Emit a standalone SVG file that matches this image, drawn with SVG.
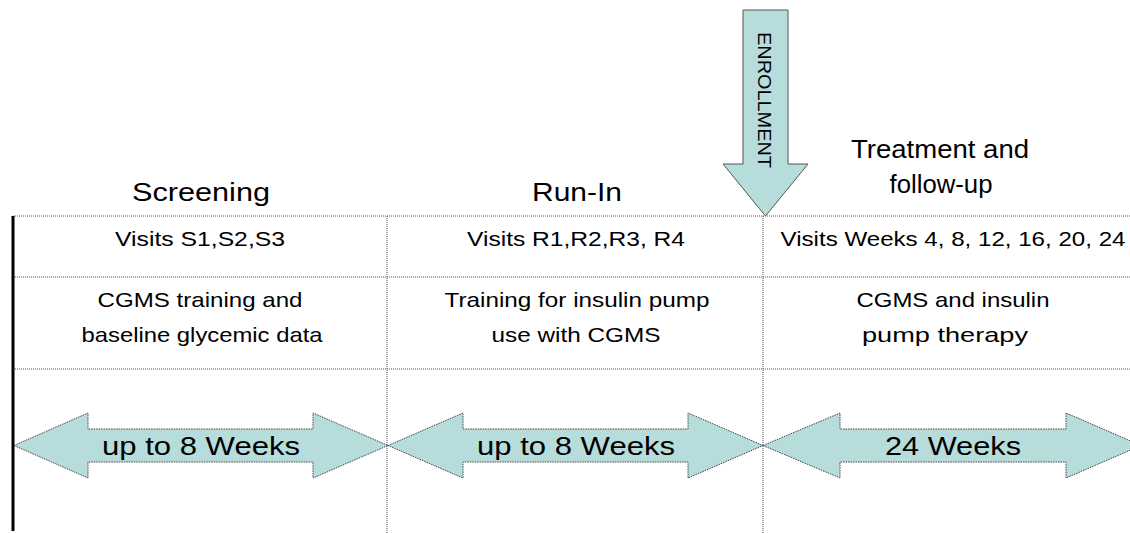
<svg xmlns="http://www.w3.org/2000/svg" width="1130" height="533" viewBox="0 0 1130 533">
<style>
text{font-family:"Liberation Sans",Arial,sans-serif;fill:#000;text-anchor:middle}
.title{font-size:26px}
.cell{font-size:21px}
.big{font-size:25px}
.grid{stroke:#555;stroke-width:1;stroke-dasharray:1,1;fill:none}
.darrow{fill:#b7dcdc;stroke:#444;stroke-width:1;stroke-dasharray:1.5,1}
.enr{fill:#b7dcdc;stroke:#555;stroke-width:1}
</style>
<rect width="1130" height="533" fill="#fff"/>
<g id="grid">
<line class="grid" x1="13" y1="216" x2="1130" y2="216"/>
<line class="grid" x1="13" y1="277" x2="1130" y2="277"/>
<line class="grid" x1="13" y1="369" x2="1130" y2="369"/>
<line class="grid" x1="387" y1="216" x2="387" y2="533"/>
<line class="grid" x1="763" y1="216" x2="763" y2="533"/>
<line x1="13" y1="216" x2="13" y2="531" stroke="#000" stroke-width="3"/>
</g>
<g id="title-screening"><text class="title" x="201" y="201" textLength="138" lengthAdjust="spacingAndGlyphs">Screening</text></g>
<g id="title-runin"><text class="title" x="577" y="201" textLength="90" lengthAdjust="spacingAndGlyphs">Run-In</text></g>
<g id="title-treatment">
<text class="title" x="940" y="158" textLength="178" lengthAdjust="spacingAndGlyphs">Treatment and</text>
<text class="title" x="941" y="193" textLength="103" lengthAdjust="spacingAndGlyphs">follow-up</text>
</g>
<g id="enrollment">
<path class="enr" d="M743,10 L788,10 L788,164 L808,164 L765.5,216 L723,164 L743,164 Z"/>
<text style="font-size:19px" transform="translate(758,100) rotate(90)" x="0" y="0" textLength="136" lengthAdjust="spacingAndGlyphs">ENROLLMENT</text>
</g>
<g id="visits-s"><text class="cell" x="200" y="246" textLength="170" lengthAdjust="spacingAndGlyphs">Visits S1,S2,S3</text></g>
<g id="visits-r"><text class="cell" x="576" y="246" textLength="218" lengthAdjust="spacingAndGlyphs">Visits R1,R2,R3, R4</text></g>
<g id="visits-w"><text class="cell" x="953" y="246" textLength="345" lengthAdjust="spacingAndGlyphs">Visits Weeks 4, 8, 12, 16, 20, 24</text></g>
<g id="desc-screening">
<text class="cell" x="200" y="307" textLength="205" lengthAdjust="spacingAndGlyphs">CGMS training and</text>
<text class="cell" x="202" y="342" textLength="241" lengthAdjust="spacingAndGlyphs">baseline glycemic data</text>
</g>
<g id="desc-runin">
<text class="cell" x="577" y="307" textLength="265" lengthAdjust="spacingAndGlyphs">Training for insulin pump</text>
<text class="cell" x="576" y="342" textLength="169" lengthAdjust="spacingAndGlyphs">use with CGMS</text>
</g>
<g id="desc-treatment">
<text class="cell" x="953" y="307" textLength="193" lengthAdjust="spacingAndGlyphs">CGMS and insulin</text>
<text class="cell" x="945" y="342" textLength="166" lengthAdjust="spacingAndGlyphs">pump therapy</text>
</g>
<g id="arrow-screening">
<path class="darrow" d="M14,445.5 L88,413 L88,429 L313,429 L313,413 L388,445.5 L313,478 L313,462 L88,462 L88,478 Z"/>
<text class="big" x="201" y="455" textLength="198" lengthAdjust="spacingAndGlyphs">up to 8 Weeks</text>
</g>
<g id="arrow-runin">
<path class="darrow" d="M388,445.5 L463,413 L463,429 L688,429 L688,413 L763,445.5 L688,478 L688,462 L463,462 L463,478 Z"/>
<text class="big" x="576" y="455" textLength="198" lengthAdjust="spacingAndGlyphs">up to 8 Weeks</text>
</g>
<g id="arrow-treatment">
<path class="darrow" d="M763,445.5 L840,413 L840,429 L1066,429 L1066,413 L1141,445.5 L1066,478 L1066,462 L840,462 L840,478 Z"/>
<text class="big" x="953" y="455" textLength="136" lengthAdjust="spacingAndGlyphs">24 Weeks</text>
</g>
</svg>
